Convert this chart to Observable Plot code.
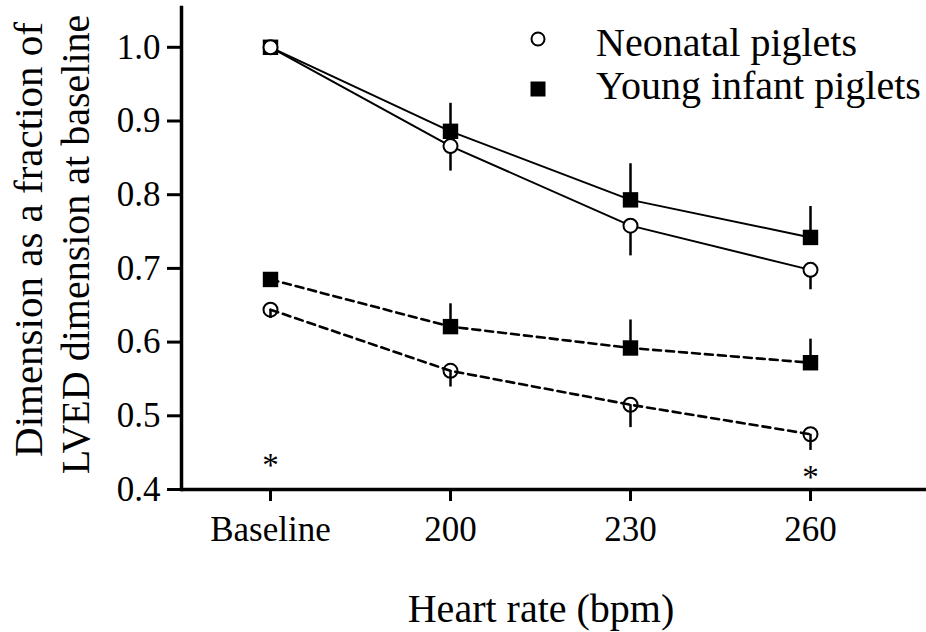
<!DOCTYPE html>
<html>
<head>
<meta charset="utf-8">
<script src="https://cdn.jsdelivr.net/npm/d3@7"></script>
<script src="https://cdn.jsdelivr.net/npm/@observablehq/plot@0.6"></script>
<style>
  html, body { margin: 0; padding: 0; background: #fff; }
  #wrap { position: relative; width: 926px; height: 632px; font-family: "Liberation Serif", "Times New Roman", serif; }
  #wrap svg, #wrap svg text { font-family: "Liberation Serif", "Times New Roman", serif !important; }
  .leg { position: absolute; font-size: 40px; line-height: 40px; color: #000; white-space: nowrap; }
  .icon { position: absolute; }
</style>
</head>
<body>
<div id="wrap"></div>
<script>
// ---- data ----
const categories = ["Baseline", "200", "230", "260"];
const yTicks = [0.4, 0.5, 0.6, 0.7, 0.8, 0.9, 1.0];

// solid lines
const neonatalSolid = [1.000, 0.866, 0.758, 0.698];
const neonatalSolidSem = [0, 0.034, 0.041, 0.027];
const infantSolid = [1.000, 0.886, 0.793, 0.742];
const infantSolidSem = [0, 0.038, 0.049, 0.042];
// dashed lines
const neonatalDashed = [0.644, 0.561, 0.515, 0.475];
const neonatalDashedSem = [0.012, 0.022, 0.031, 0.022];
const infantDashed = [0.685, 0.621, 0.592, 0.572];
const infantDashedSem = [0, 0.031, 0.038, 0.032];

const legendLabels = ["Neonatal piglets", "Young infant piglets"];
const asterisks = [{x: "Baseline", y: 0.433}, {x: "260", y: 0.417}];

// ---- build rows ----
function rows(vals, sems, group, dashed, dir) {
  return categories.map((c, i) => ({x: c, y: vals[i], sem: sems[i], group, dashed, dir}));
}
const series = [
  rows(neonatalSolid, neonatalSolidSem, "neo", false, -1),
  rows(infantSolid, infantSolidSem, "inf", false, 1),
  rows(neonatalDashed, neonatalDashedSem, "neo", true, -1),
  rows(infantDashed, infantDashedSem, "inf", true, 1)
];
const all = series.flat();
const FONT = "Liberation Serif, Times New Roman, serif";

const marks = [
  Plot.ruleY([0.4], {strokeWidth: 3.5}),
  Plot.frame({anchor: "left", strokeWidth: 3.5}),
  Plot.axisY({ticks: yTicks, tickFormat: d3.format(".1f"), tickSize: 14, tickPadding: 7, fontSize: 35, strokeWidth: 3, label: null}),
  Plot.axisX({tickSize: 12, tickPadding: 15, fontSize: 35, strokeWidth: 3, label: null})
];
for (const s of series) {
  marks.push(Plot.line(s, {x: "x", y: "y", stroke: "black", strokeWidth: s[0].dashed ? 2.6 : 2, strokeDasharray: s[0].dashed ? "8,5" : null}));
}
marks.push(Plot.ruleX(all.filter(d => d.sem > 0), {x: "x", y1: "y", y2: d => d.y + d.dir * d.sem, stroke: "black", strokeWidth: 2.5}));
marks.push(Plot.dot(all.filter(d => d.group === "inf"), {x: "x", y: "y", symbol: "square", r: 8.7, fill: "black", stroke: "none"}));
marks.push(Plot.dot(all.filter(d => d.group === "neo"), {x: "x", y: "y", r: 7, fill: d => d.dashed ? "none" : "white", stroke: "black", strokeWidth: 2}));
marks.push(Plot.text(asterisks, {x: "x", y: "y", text: () => "*", fontSize: 33, fill: "black"}));
marks.push(Plot.text(["Dimension as a fraction of"], {frameAnchor: "left", rotate: -90, dx: -152.5, dy: -9, fontSize: 41, textAnchor: "middle", lineAnchor: "middle", fill: "black"}));
marks.push(Plot.text(["LVED dimension at baseline"], {frameAnchor: "left", rotate: -90, dx: -105.5, dy: -4, fontSize: 40, textAnchor: "middle", lineAnchor: "middle", fill: "black"}));
marks.push(Plot.text(["Heart rate (bpm)"], {frameAnchor: "bottom", dx: -13, dy: 119.5, fontSize: 40, textAnchor: "middle", lineAnchor: "middle", fill: "black"}));

const chart = Plot.plot({
  width: 926,
  height: 632,
  marginLeft: 181,
  marginRight: 0,
  marginTop: 7,
  marginBottom: 143,
  style: {fontFamily: FONT, color: "black", background: "white", overflow: "visible"},
  x: {type: "point", domain: categories, padding: 0, insetLeft: 89, insetRight: 116, label: null},
  y: {domain: [0.4, 1.054], label: null},
  marks
});
const wrap = document.getElementById("wrap");
wrap.appendChild(chart);

// legend overlay
const leg1 = document.createElement("div");
leg1.className = "leg"; leg1.style.left = "596px"; leg1.style.top = "23px"; leg1.textContent = legendLabels[0];
const leg2 = document.createElement("div");
leg2.className = "leg"; leg2.style.left = "596px"; leg2.style.top = "66px"; leg2.textContent = legendLabels[1];
wrap.appendChild(leg1); wrap.appendChild(leg2);
const ns = "http://www.w3.org/2000/svg";
const ic = document.createElementNS(ns, "svg");
ic.setAttribute("class", "icon"); ic.setAttribute("width", "926"); ic.setAttribute("height", "120");
ic.style.left = "0px"; ic.style.top = "0px";
const c = document.createElementNS(ns, "circle");
c.setAttribute("cx", 538); c.setAttribute("cy", 39); c.setAttribute("r", 6.5);
c.setAttribute("fill", "white"); c.setAttribute("stroke", "black"); c.setAttribute("stroke-width", 2);
const r = document.createElementNS(ns, "rect");
r.setAttribute("x", 530.5); r.setAttribute("y", 81.5); r.setAttribute("width", 15); r.setAttribute("height", 15);
r.setAttribute("fill", "black");
ic.appendChild(c); ic.appendChild(r);
wrap.appendChild(ic);
</script>
</body>
</html>
